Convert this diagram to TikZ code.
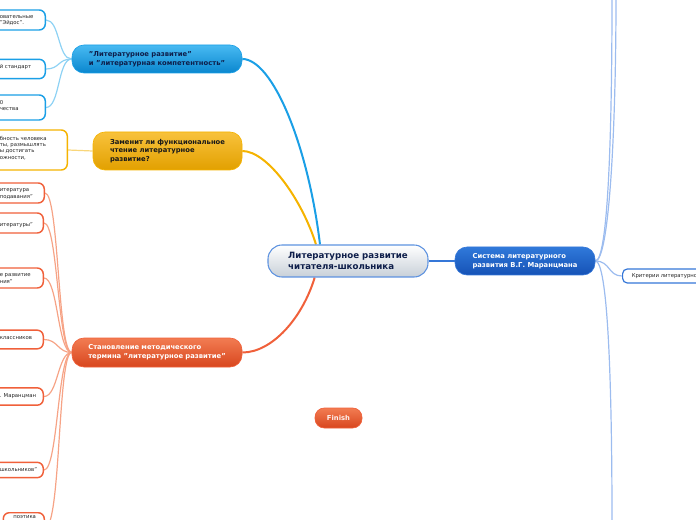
\documentclass[tikz,border=0pt]{standalone}
\usepackage{fontspec}
\setmainfont{DejaVu Sans}
\usetikzlibrary{backgrounds}
\definecolor{cB}{HTML}{1A9FE6}
\definecolor{cBl}{HTML}{8ED2F4}
\definecolor{cBt}{HTML}{48BAF2}
\definecolor{cBb}{HTML}{0A86CE}
\definecolor{cY}{HTML}{F5B300}
\definecolor{cYl}{HTML}{F9D67A}
\definecolor{cYt}{HTML}{F8C23C}
\definecolor{cYb}{HTML}{E2A000}
\definecolor{cR}{HTML}{F0603A}
\definecolor{cRl}{HTML}{F6A386}
\definecolor{cRt}{HTML}{F27C52}
\definecolor{cRb}{HTML}{D8461E}
\definecolor{cS}{HTML}{3577D8}
\definecolor{cSl}{HTML}{9CBCEF}
\definecolor{cSt}{HTML}{3079DA}
\definecolor{cSb}{HTML}{1552B6}
\definecolor{navy}{HTML}{0E1E4A}
\begin{document}
\begin{tikzpicture}[x=0.75pt,y=-0.75pt,
  lt/.style={font=\fontsize{4}{4.8}\selectfont, text=black!85, inner sep=0pt, align=left, anchor=west},
  leaf/.style={line width=1.1pt, rounded corners=4.5pt, fill=white, inner sep=0pt},
  leafB/.style={leaf, draw=cB},
  leafY/.style={leaf, draw=cY},
  leafR/.style={leaf, draw=cR},
  leafS/.style={leaf, draw=cS},
  branch/.style={rounded corners=9pt, font=\bfseries\fontsize{5.1}{6.6}\selectfont, align=left, inner sep=0pt, line width=0.5pt},
  brB/.style={branch, top color=cBt, bottom color=cBb, draw=cB, text=navy},
  brY/.style={branch, top color=cYt, bottom color=cYb, draw=cY, text=black!90},
  brR/.style={branch, top color=cRt, bottom color=cRb, draw=cR, text=white},
  brS/.style={branch, top color=cSt, bottom color=cSb, draw=cS, text=white},
  mainline/.style={line width=1.5pt},
  subline/.style={line width=0.9pt}]
\useasboundingbox (0,0) rectangle (696,520);
\clip (0,0) rectangle (696,520);

% central
\node[rounded corners=10.5pt, top color=white, bottom color={rgb,255:red,200;green,208;blue,216}, draw=cS!80, line width=0.8pt,
  minimum width=120pt, minimum height=24pt, inner sep=0pt, align=left, text=navy,
  font=\bfseries\fontsize{6.5}{8.2}\selectfont] (cen) at (348,261) {Литературное развитие\\читателя-школьника};

% branches
\node[brB, minimum width=127.5pt, minimum height=21pt] (blueb) at (157,59) {"Литературное развитие"\\и "литературная компетентность"};
\node[brY, minimum width=111.75pt, minimum height=28.5pt] (yelb) at (167.5,151) {Заменит ли функциональное\\чтение литературное\\развитие?};
\node[brR, minimum width=127.5pt, minimum height=21.75pt] (redb) at (157,352.5) {Становление методического\\термина "литературное развитие"};
\node[brS, minimum width=105pt, minimum height=21pt] (rt) at (525,261) {Система литературного\\развития В.Г. Маранцмана};
\node[brR, rounded corners=7pt, minimum width=35.25pt, minimum height=15pt, font=\bfseries\fontsize{5.1}{6}\selectfont, text=white!92!cR] (fin) at (338.5,418) {Finish};

% blue leaves
\node[leafB, minimum width=60pt, minimum height=15pt, anchor=east] (b1) at (46,20) {};
\node[lt] (b1t) at (-0.5,20.5) {овательные\\"Эйдос".};
\node[leafB, minimum width=60pt, minimum height=14.5pt, anchor=east] (b2) at (46,69) {};
\node[lt] (b2t) at (-0.5,67.5) {й стандарт};
\node[leafB, minimum width=60pt, minimum height=18.75pt, anchor=east] (b3) at (46,107.5) {};
\node[lt] (b3t) at (-0.5,105.5) {0\\чества};

% yellow leaf
\node[leafY, minimum width=75pt, minimum height=30pt, anchor=east] (y1) at (68,150) {};
\node[lt] (y1t) at (-0.5,148) {бность человека\\ты, размышлять\\ы достигать\\ожности,};

% red leaves
\node[leafR, minimum width=60pt, minimum height=15pt, anchor=east] (r1) at (45,193) {};
\node[lt] (r1t) at (-0.5,194) {итература\\подавания"};
\node[leafR, minimum width=60pt, minimum height=15pt, anchor=east] (r2) at (44,223) {};
\node[lt] (r2t) at (-0.5,225) {итературы"};
\node[leafR, minimum width=60pt, minimum height=15pt, anchor=east] (r3) at (44,278) {};
\node[lt] (r3t) at (-0.5,278.5) {е развитие\\ния"};
\node[leafR, minimum width=60pt, minimum height=14pt, anchor=east] (r4) at (44,339.5) {};
\node[lt] (r4t) at (-0.5,338.5) {классников};
\node[leafR, minimum width=60pt, minimum height=13pt, anchor=east] (r5) at (44,396.5) {};
\node[lt] (r5t) at (-0.5,396.5) {. Маранцман};
\node[leafR, minimum width=60pt, minimum height=11.5pt, anchor=east] (r6) at (44,470) {};
\node[lt] (r6t) at (-0.5,470) {школьников"};
\node[leafR, minimum width=30.75pt, minimum height=15pt, anchor=north east] (r7) at (45,512) {};
\node[lt] (r7t) at (13,516.8) {поэтика};

% right leaf
\node[leafS, line width=0.9pt, rounded corners=3.5pt, minimum width=90pt, minimum height=10.5pt, anchor=west] (c1) at (622,276) {};
\node[lt] (c1t) at (631.5,276) {Критерии литературно};

\coordinate (u1) at (612,-3);
\coordinate (u2) at (616,-3);
\coordinate (d1) at (612,523);

\begin{pgfonlayer}{background}
\draw[mainline, cB] (blueb.east) .. controls +(30,0) and +(-12,-100) .. ([xshift=-21pt]cen.north);
\draw[mainline, cY] (yelb.east) .. controls +(25,0) and +(-14,-45) .. ([xshift=-24pt]cen.north);
\draw[mainline, cR] (redb.east) .. controls +(30,0) and +(-12,40) .. ([xshift=-25pt]cen.south);
\draw[line width=1.1pt, cS] (cen.east) -- (rt.west);

\foreach \n in {b1,b2,b3}{
  \draw[subline, cBl] (blueb.west) .. controls +(-14,0) and +(14,0) .. (\n.east);}
\draw[subline, cYl] (yelb.west) -- (y1.east);
\foreach \n in {r1,r2,r3,r4,r5,r6}{
  \draw[subline, cRl] (redb.west) .. controls +(-14,0) and +(14,0) .. (\n.east);}
\draw[subline, cRl] (redb.west) .. controls +(-14,0) and +(16,0) .. ([yshift=-4pt]r7.east);

\draw[subline, cSl] (rt.east) .. controls +(12,0) and +(0,150) .. (u1);
\draw[subline, cSl] (rt.east) .. controls +(14,0) and +(0,130) .. (u2);
\draw[subline, cSl] (rt.east) .. controls +(12,0) and +(0,-150) .. (d1);
\draw[subline, cSl] (rt.east) .. controls +(15,0) and +(-14,0) .. (c1.west);
\end{pgfonlayer}
\end{tikzpicture}
\end{document}
